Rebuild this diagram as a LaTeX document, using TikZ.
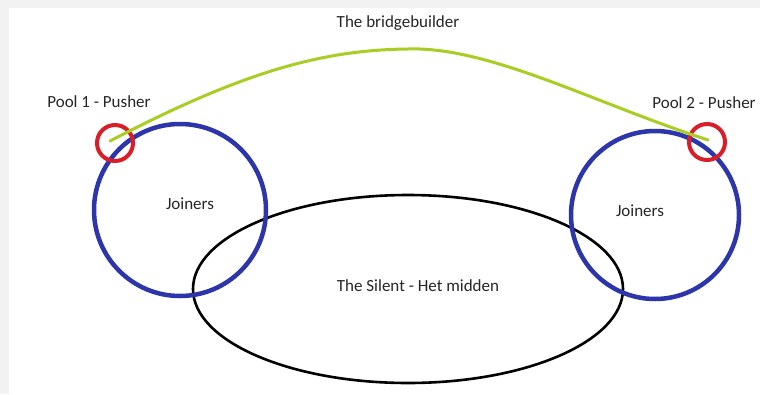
\documentclass[tikz,border=0pt]{standalone}
\usepackage{fontspec}
\setmainfont{Carlito}
\usetikzlibrary{shapes.geometric}
\definecolor{cblue}{HTML}{2D35AA}
\definecolor{cred}{HTML}{D91E2A}
\definecolor{cgreen}{HTML}{A9CD22}
\definecolor{cframe}{HTML}{F2F2F2}
\tikzset{
  every picture/.style={font=\fontsize{17}{20}\selectfont},
  ring/.style={circle, draw=#1, line width=4.5pt, inner sep=0pt},
  ring/.default=cblue,
  pusher/.style={circle, draw=cred, line width=4pt, inner sep=0pt, minimum size=36pt},
  bridge/.style={draw=cgreen, line width=3pt, line cap=round},
  middle/.style={ellipse, draw=black, line width=2.6pt, inner sep=0pt, minimum width=430pt, minimum height=188pt},
  label/.style={text=black!85, inner sep=1pt},
}

\begin{document}
\begin{tikzpicture}[x=1pt, y=-1pt]
  \useasboundingbox (0,0) rectangle (760,394);
  \fill[cframe] (0,0) rectangle (760,394);
  \fill[white] (9,8) rectangle (760,394);
  \node[middle] (silent) at (408,289) {};
  \node[ring=cblue, minimum size=172pt] (ring1) at (180,210) {};
  \node[ring=cblue, minimum size=168pt] (ring2) at (655,215) {};
  \node[pusher] (push1) at (115,143) {};
  \node[pusher] (push2) at (707,142) {};
  \coordinate (top) at (420,49);
  \draw[bridge] (110,141) .. controls (250,68) and (330,48) .. (top)
    .. controls (500,52) and (600,105) .. (708,140);
  \node[label] (tbridge) at (398,23) {The bridgebuilder};
  \node[label] (tpool1) at (99,102) {Pool 1 - Pusher};
  \node[label] (tpool2) at (704,103) {Pool 2 - Pusher};
  \node[label] (tjoin1) at (190,204) {Joiners};
  \node[label] (tjoin2) at (640,211) {Joiners};
  \node[label] (tsilent) at (418,286) {The Silent - Het midden};
\end{tikzpicture}
\end{document}
